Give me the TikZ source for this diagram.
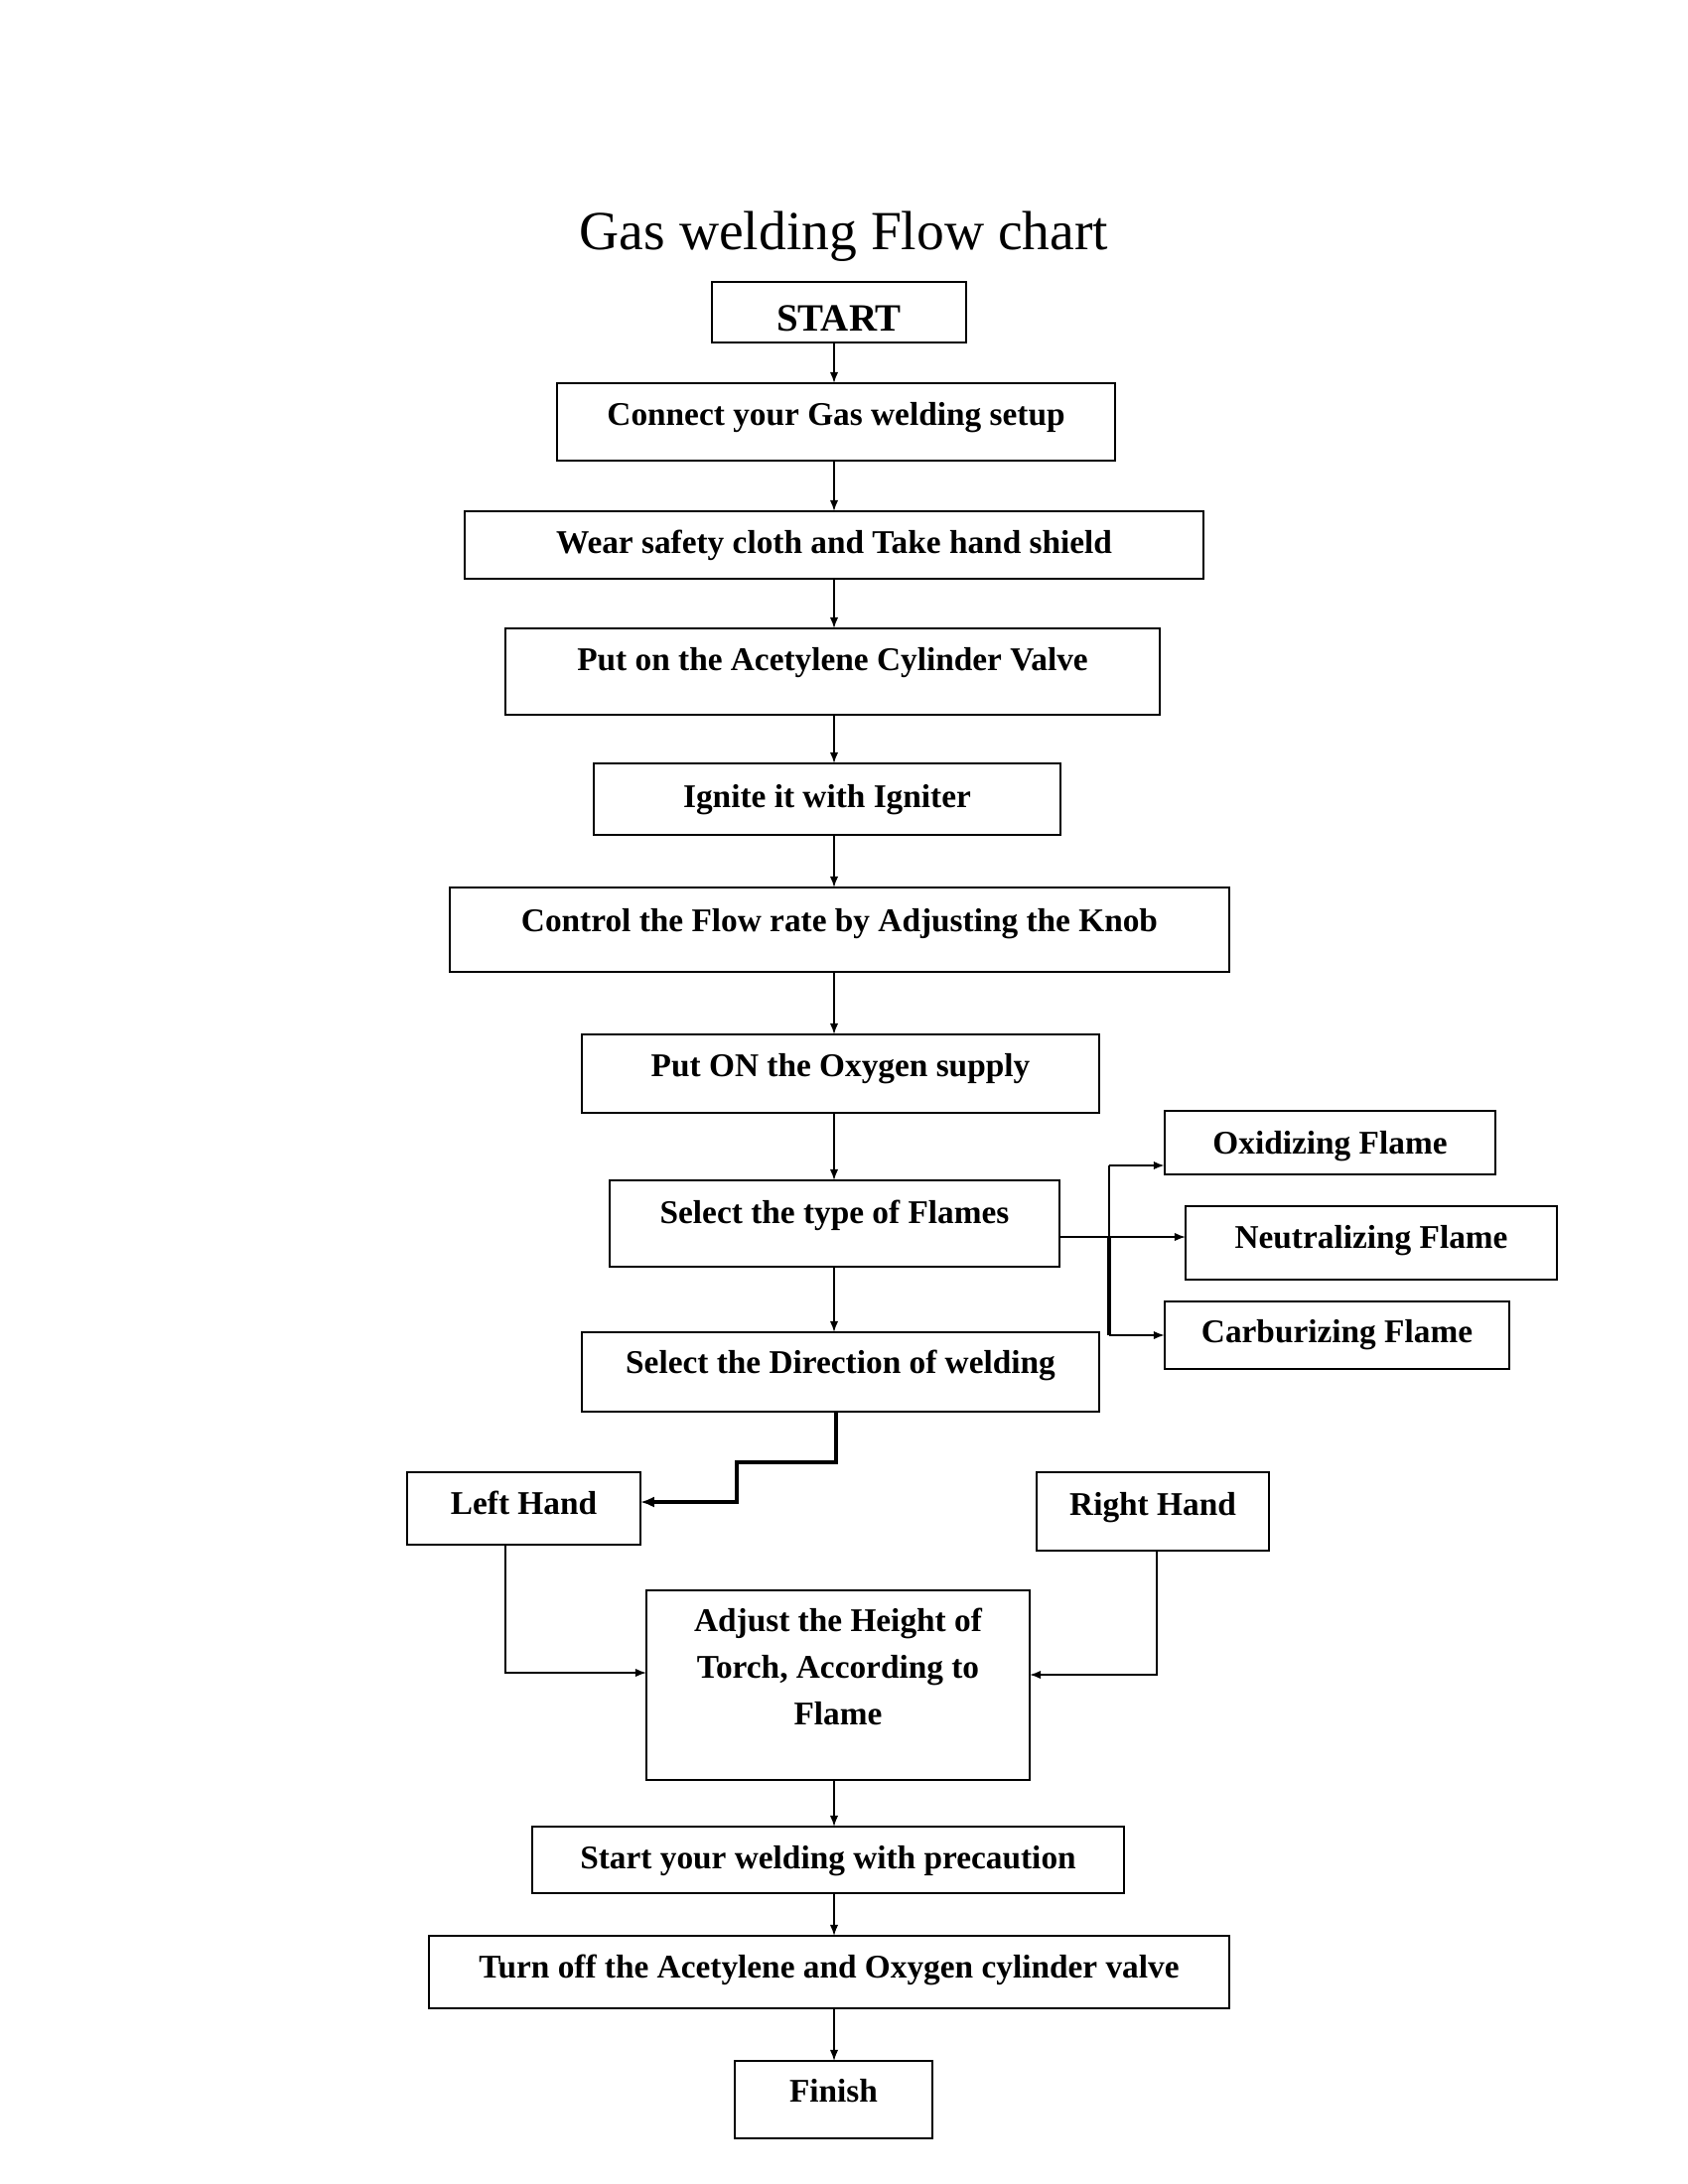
\documentclass[tikz,border=0pt]{standalone}
\usepackage{fontspec}
\setmainfont{Liberation Serif}
\usetikzlibrary{arrows.meta}
\begin{document}
\begin{tikzpicture}[x=0.36pt,y=-0.36pt,
  stepbox/.style 2 args={draw, line width=0.8pt, rectangle, inner sep=0pt, outer sep=0pt,
    minimum width=#1*0.36pt, minimum height=#2*0.36pt,
    font=\bfseries\fontsize{12}{14}\selectfont, text height=8pt},
  lift/.style={text depth=#1},
  link/.style={line width=0.55pt, -{Latex[length=4pt,width=3pt]}},
  heavy/.style={line width=1.3pt, -{Latex[length=5pt,width=4pt]}}]
\useasboundingbox (0,0) rectangle (1700,2200);

\node[anchor=base, font=\fontsize{20}{24}\selectfont] (title) at (850,252) {Gas welding Flow chart};

% main column of steps
\node[stepbox={256}{61}, font=\bfseries\fontsize{14}{16}\selectfont, text height=13.6pt, text depth=0pt] (start) at (845,314.5) {START};
\node[stepbox={562}{78}, lift=5.4pt] (connect) at (842,425) {Connect your Gas welding setup};
\node[stepbox={744}{68}, lift=1.8pt] (wear) at (840,549) {Wear safety cloth and Take hand shield};
\node[stepbox={659}{87}, lift=8.5pt] (acet) at (838.5,676.5) {Put on the Acetylene Cylinder Valve};
\node[stepbox={470}{72}, lift=1.8pt] (ignite) at (833,805) {Ignite it with Igniter};
\node[stepbox={785}{85}, lift=6.8pt] (control) at (845.5,936.5) {Control the Flow rate by Adjusting the Knob};
\node[stepbox={521}{79}, lift=5.6pt] (oxygen) at (846.5,1081.5) {Put ON the Oxygen supply};
\node[stepbox={453}{87}, lift=8pt] (flames) at (840.5,1232.5) {Select the type of Flames};
\node[stepbox={521}{80}, lift=7pt] (direction) at (846.5,1382) {Select the Direction of welding};

% flame types
\node[stepbox={333}{64}, lift=0pt] (oxid) at (1339.5,1151) {Oxidizing Flame};
\node[stepbox={374}{74}, lift=4pt] (neut) at (1381,1252) {Neutralizing Flame};
\node[stepbox={347}{68}, lift=2.6pt] (carb) at (1346.5,1345) {Carburizing Flame};

% welding direction
\node[stepbox={235}{73}, lift=3.6pt] (left) at (527.5,1519.5) {Left Hand};
\node[stepbox={234}{79}, lift=5.2pt] (right) at (1161,1522.5) {Right Hand};

\node[stepbox={386}{191}, align=center, font=\bfseries\fontsize{12}{17}\selectfont, text height=42.5pt, text depth=13.5pt] (adjust) at (844,1697.5)
  {Adjust the Height of\\Torch, According to\\Flame};
\node[stepbox={596}{67}, lift=1.6pt] (weld) at (834,1873.5) {Start your welding with precaution};
\node[stepbox={806}{73}, lift=3.6pt] (off) at (835,1986.5) {Turn off the Acetylene and Oxygen cylinder valve};
\node[stepbox={199}{78}, lift=6.2pt] (finish) at (839.5,2115) {Finish};

% vertical flow
\coordinate (spine) at (840,0);
\foreach \a/\b in {start/connect, connect/wear, wear/acet, acet/ignite, ignite/control,
                   control/oxygen, oxygen/flames, flames/direction, adjust/weld, weld/off, off/finish}
  \draw[link] (\a.south -| spine) -- (\b.north -| spine);

% branching to flame types
\coordinate (bus) at (1117,1246);
\coordinate (busTop) at (1117,1174);
\coordinate (busBot) at (1117,1345);
\draw[link] (flames.east |- bus) -- (neut.west |- bus);
\draw[line width=0.9pt] (bus) -- (busTop);
\draw[line width=1.6pt] (bus) -- (busBot);
\draw[link, line width=0.9pt] (busTop) -- (busTop -| oxid.west);
\draw[link, line width=0.7pt] (busBot) -- (carb.west);

% direction to left hand
\coordinate (dl1) at (842,1473);
\coordinate (dl2) at (742,1513);
\draw[heavy] (direction.south -| dl1) -- (dl1) -| (dl2) -- (dl2 -| left.east);

% both hands lead to torch height adjustment
\coordinate (lh) at (509,1685);
\coordinate (rh) at (1165,1687);
\draw[link] (left.south -| lh) |- (adjust.west |- lh);
\draw[link] (right.south -| rh) |- (adjust.east |- rh);
\end{tikzpicture}
\end{document}
